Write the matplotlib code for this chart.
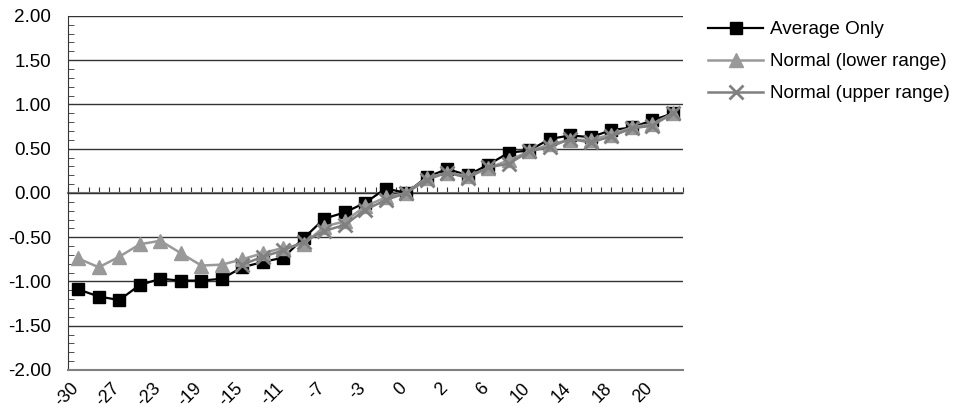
import numpy as np
import matplotlib
matplotlib.use("Agg")
import matplotlib.pyplot as plt
import matplotlib.transforms as mtransforms

plt.rcParams['font.family'] = ['Liberation Sans', 'DejaVu Sans']

# === DATA ===
categories = [-30, -29, -27, -25, -23, -21, -19, -17, -15, -13, -11, -9, -7, -5, -3,
              -1, 0, 1, 2, 4, 6, 8, 10, 12, 14, 16, 18, 19, 20, 22]
average_only = [-1.09, -1.17, -1.21, -1.04, -0.97, -0.99, -0.99, -0.97, -0.84, -0.78,
                -0.73, -0.51, -0.29, -0.22, -0.11, 0.05, 0.00, 0.18, 0.27, 0.20,
                0.32, 0.455, 0.48, 0.61, 0.65, 0.63, 0.71, 0.74, 0.82, 0.90]
normal_lower = [-0.74, -0.84, -0.72, -0.58, -0.54, -0.68, -0.82, -0.81, -0.75, -0.68,
                -0.62, -0.58, -0.38, -0.32, -0.15, -0.05, 0.00, 0.17, 0.23, 0.19,
                0.28, 0.37, 0.47, 0.55, 0.60, 0.60, 0.66, 0.74, 0.78, 0.90]
upper_start = 8
normal_upper = [-0.81, -0.72, -0.65, -0.55, -0.43, -0.36, -0.19, -0.08, 0.00, 0.15,
                0.23, 0.17, 0.29, 0.33, 0.47, 0.52, 0.61, 0.57, 0.64, 0.73, 0.76, 0.90]
# ==============

FS = 13.6

fig = plt.figure(figsize=(9.61, 4.19), dpi=100)
ax = fig.add_axes([0.0708, 0.117, 0.64, 0.845])

x = np.arange(len(categories))
x_upper = x[upper_start:]

ax.plot(x, average_only, color='black', linewidth=1.6, marker='s', markersize=9,
        label='Average Only', zorder=3)
ax.plot(x, normal_lower, color='#999999', linewidth=1.8, marker='^', markersize=10,
        label='Normal (lower range)', zorder=4)
ax.plot(x_upper, normal_upper, color='#808080', linewidth=1.8, marker='x', markersize=10,
        markeredgewidth=2, label='Normal (upper range)', zorder=5)

ax.set_xlim(-0.5, len(categories) - 0.5)
ax.set_ylim(-2.0, 2.0)

# y axis
ax.set_yticks(np.arange(-2.0, 2.01, 0.5))
ax.set_yticklabels([f"{v:.2f}" for v in np.arange(-2.0, 2.01, 0.5)], fontsize=FS)
ax.set_yticks(np.arange(-2.0, 2.01, 0.1), minor=True)
ax.tick_params(axis='y', which='major', length=0, pad=12)
ax.tick_params(axis='y', which='minor', direction='in', length=4, color='#333333')
ax.grid(axis='y', which='major', color='#333333', linewidth=1.0)

# x axis labels (every second category)
ax.set_xticks(x[::2])
ax.set_xticklabels([str(c) for c in categories[::2]], fontsize=12.8,
                   rotation=45, ha='right', va='top', rotation_mode='anchor')
ax.tick_params(axis='x', length=0, pad=7)
offset = mtransforms.ScaledTranslation(-8 / 100, 0, fig.dpi_scale_trans)
for lbl in ax.get_xticklabels():
    lbl.set_transform(lbl.get_transform() + offset)

for side in ['top', 'right']:
    ax.spines[side].set_visible(False)
ax.spines['left'].set_color('#333333')
ax.spines['bottom'].set_color('#808080')
ax.spines['bottom'].set_linewidth(1.5)

# category axis crossing at zero, with small tick marks
ax0 = ax.twiny()
ax0.set_xlim(ax.get_xlim())
ax0.spines['bottom'].set_position(('data', 0))
ax0.spines['bottom'].set_color('#808080')
ax0.spines['bottom'].set_linewidth(1.5)
for side in ['top', 'left', 'right']:
    ax0.spines[side].set_visible(False)
ax0.xaxis.set_ticks_position('bottom')
ax0.set_xticks(np.arange(-0.5, len(categories), 0.5))
ax0.tick_params(axis='x', direction='in', length=4, color='#333333', labelbottom=False)
ax0.set_zorder(ax.get_zorder() - 1)
ax.patch.set_visible(False)

fig.legend(loc='upper left', bbox_to_anchor=(0.7195, 0.99), frameon=False,
           fontsize=FS, handlelength=2.9, handletextpad=0.36, labelspacing=0.78)

fig.savefig("out.png", dpi=100)
